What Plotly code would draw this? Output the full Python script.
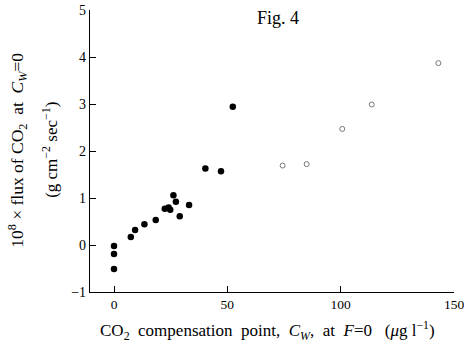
import plotly.graph_objects as go

# filled points (CO2 compensation point, flux)
filled_x = [0, 0, 0, 7.4, 9.3, 13.4, 18.4, 22.4, 24.1, 24.8, 26.2, 27.3, 29.0, 33.1, 40.3, 47.2, 52.4]
filled_y = [-0.51, -0.19, -0.02, 0.17, 0.32, 0.44, 0.53, 0.77, 0.80, 0.75, 1.06, 0.92, 0.61, 0.85, 1.63, 1.57, 2.94]
# open points
open_x = [74.4, 85.0, 100.7, 113.7, 143.1]
open_y = [1.69, 1.72, 2.47, 2.99, 3.87]

x_ticks = [0, 50, 100, 150]
y_ticks = [-1, 0, 1, 2, 3, 4, 5]

FONT = "Liberation Serif"
S = "&nbsp;"

fig = go.Figure()
fig.add_trace(go.Scatter(x=filled_x, y=filled_y, mode="markers",
                         marker=dict(color="black", size=6.5), showlegend=False))
fig.add_trace(go.Scatter(x=open_x, y=open_y, mode="markers",
                         marker=dict(color="white", size=5, line=dict(color="#777", width=1)),
                         showlegend=False))

fig.update_layout(
    width=464, height=348,
    margin=dict(l=90, r=10, t=10, b=56, autoexpand=False),
    paper_bgcolor="white", plot_bgcolor="white",
    font=dict(family=FONT, color="black", size=14),
    xaxis=dict(range=[-10.6, 150], tickvals=x_ticks, ticks="inside", ticklen=6,
               showgrid=False, zeroline=False, showline=True, linecolor="black",
               linewidth=1.2, tickcolor="black", tickfont=dict(size=13.5, family=FONT),
               automargin=False, ticklabeloverflow="allow"),
    yaxis=dict(range=[-1, 5], tickvals=y_ticks, ticks="inside", ticklen=6,
               showgrid=False, zeroline=False, showline=True, linecolor="black",
               linewidth=1.2, tickcolor="black", tickfont=dict(size=14, family=FONT),
               automargin=False, ticklabeloverflow="allow"),
    annotations=[
        dict(text=f"10<sup>8</sup> × flux of CO<sub>2</sub>{S} at{S} <i>C<sub>W</sub></i>=0",
             xref="paper", yref="paper", x=-0.198, y=0.504, textangle=-90,
             showarrow=False, xanchor="center", yanchor="middle",
             font=dict(size=17.5, family=FONT)),
        dict(text="(g cm<sup>−2</sup> sec<sup>−1</sup>)",
             xref="paper", yref="paper", x=-0.11, y=0.504, textangle=-90,
             showarrow=False, xanchor="center", yanchor="middle",
             font=dict(size=17, family=FONT)),
        dict(text=f"CO<sub>2</sub>{S} compensation{S} point,{S} <i>C<sub>W</sub></i>,{S} at{S} <i>F</i>=0{S}{S} (<i>μ</i>g l<sup>−1</sup>)",
             xref="paper", yref="paper", x=0.489, y=-0.135,
             showarrow=False, xanchor="center", yanchor="middle",
             font=dict(size=17, family=FONT)),
        dict(text="Fig. 4", xref="paper", yref="paper", x=0.516, y=0.972,
             showarrow=False, xanchor="center", yanchor="middle",
             font=dict(size=18, family=FONT)),
    ],
)

fig.write_html("out.html")
